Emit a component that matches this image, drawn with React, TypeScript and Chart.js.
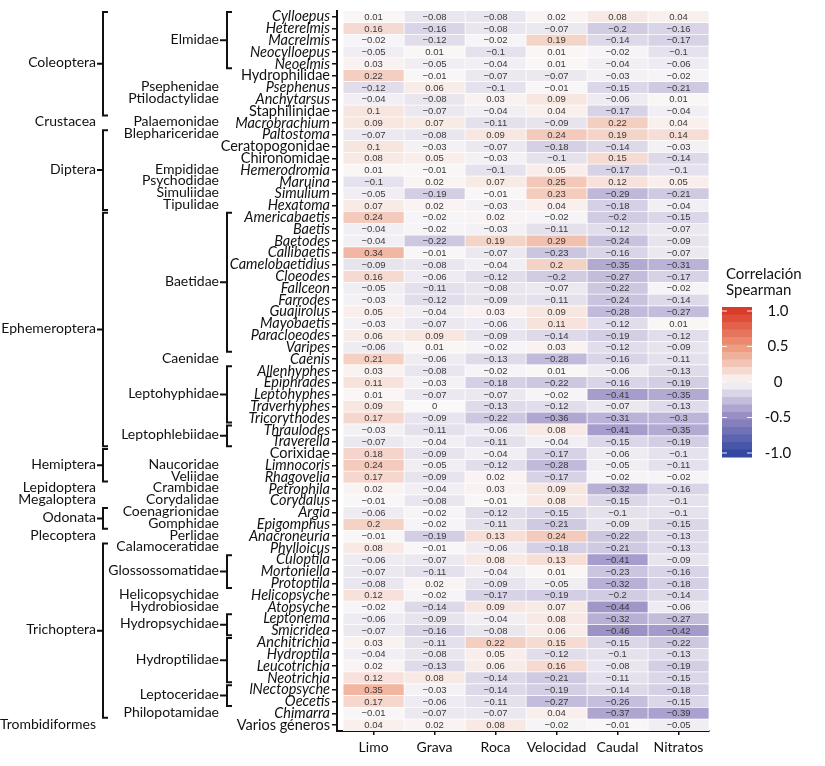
import React, { useEffect, useRef } from "react";
import { Chart, registerables } from "chart.js";
Chart.register(...registerables);

const taxa = [
  "Cylloepus", "Heterelmis", "Macrelmis", "Neocylloepus", "Neoelmis", "Hydrophilidae", "Psephenus", "Anchytarsus", "Staphilinidae", "Macrobrachium",
  "Paltostoma", "Ceratopogonidae", "Chironomidae", "Hemerodromia", "Maruina", "Simulium", "Hexatoma",
  "Americabaetis", "Baetis", "Baetodes", "Callibaetis", "Camelobaetidius", "Cloeodes", "Fallceon", "Farrodes", "Guajirolus", "Mayobaetis", "Paracloeodes", "Varipes", "Caenis",
  "Allenhyphes", "Epiphrades", "Leptohyphes", "Traverhyphes", "Tricorythodes", "Thraulodes", "Traverella",
  "Corixidae", "Limnocoris", "Rhagovelia", "Petrophila", "Corydalus", "Argia", "Epigomphus", "Anacroneuria", "Phylloicus",
  "Culoptila", "Mortoniella", "Protoptila", "Helicopsyche", "Atopsyche", "Leptonema", "Smicridea",
  "Anchitrichia", "Hydroptila", "Leucotrichia", "Neotrichia", "lNectopsyche", "Oecetis", "Chimarra", "Varios géneros",
];
const uprightLabels = ["Hydrophilidae", "Staphilinidae", "Ceratopogonidae", "Chironomidae", "Corixidae", "Varios géneros"];
const variables = ["Limo", "Grava", "Roca", "Velocidad", "Caudal", "Nitratos"];

const limo = [0.01, 0.16, -0.02, -0.05, 0.03, 0.22, -0.12, -0.04, 0.1, 0.09,
  -0.07, 0.1, 0.08, 0.01, -0.1, -0.05, 0.07,
  0.24, -0.04, -0.04, 0.34, -0.09, 0.16, -0.05, -0.03, 0.05, -0.03, 0.06, -0.06, 0.21,
  0.03, 0.11, 0.01, 0.09, 0.17, -0.03, -0.07,
  0.18, 0.24, 0.17, 0.02, -0.01, -0.06, 0.2, -0.01, 0.08, -0.06, -0.07, -0.08, 0.12, -0.02, -0.06, -0.07, 0.03, -0.04, 0.02, 0.12, 0.35, 0.17, -0.01, 0.04];
const grava = [-0.08, -0.16, -0.12, 0.01, -0.05, -0.01, 0.06, -0.08, -0.07, 0.07,
  -0.08, -0.03, 0.05, -0.01, 0.02, -0.19, 0.02,
  -0.02, -0.02, -0.22, -0.01, -0.08, -0.06, -0.11, -0.12, -0.04, -0.07, 0.09, 0.01, -0.06,
  -0.08, -0.03, -0.07, 0, -0.09, -0.11, -0.04,
  -0.09, -0.05, -0.09, -0.04, -0.08, -0.02, -0.02, -0.19, -0.01, -0.07, -0.11, 0.02, -0.02, -0.14, -0.09, -0.16, -0.11, -0.08, -0.13, 0.08, -0.03, -0.06, -0.07, 0.02];
const roca = [-0.08, -0.08, -0.02, -0.1, -0.04, -0.07, -0.1, 0.03, -0.04, -0.11,
  0.09, -0.07, -0.03, -0.1, 0.07, -0.01, -0.03,
  0.02, -0.03, 0.19, -0.07, -0.04, -0.12, -0.08, -0.09, 0.03, -0.06, -0.09, -0.02, -0.13,
  -0.02, -0.18, -0.07, -0.13, -0.22, -0.06, -0.11,
  -0.04, -0.12, 0.02, 0.03, -0.01, -0.12, -0.11, 0.13, -0.06, 0.08, -0.04, -0.09, -0.17, 0.09, -0.04, -0.08, 0.22, 0.05, 0.06, -0.14, -0.14, -0.11, -0.07, 0.08];
const velocidad = [0.02, -0.07, 0.19, 0.01, 0.01, -0.07, -0.01, 0.09, 0.04, -0.09,
  0.24, -0.18, -0.1, 0.05, 0.25, 0.23, 0.04,
  -0.02, -0.11, 0.29, -0.23, 0.2, -0.2, -0.07, -0.11, 0.09, 0.11, -0.14, 0.03, -0.28,
  0.01, -0.22, -0.02, -0.12, -0.36, 0.08, -0.04,
  -0.17, -0.28, -0.17, 0.09, 0.08, -0.15, -0.21, 0.24, -0.18, 0.13, 0.01, -0.05, -0.19, 0.07, 0.08, 0.06, 0.15, -0.12, 0.16, -0.21, -0.19, -0.27, 0.04, -0.02];
const caudal = [0.08, -0.2, -0.14, -0.02, -0.04, -0.03, -0.15, -0.06, -0.17, 0.22,
  0.19, -0.14, 0.15, -0.17, 0.12, -0.29, -0.18,
  -0.2, -0.12, -0.24, -0.16, -0.35, -0.27, -0.22, -0.24, -0.28, -0.12, -0.19, -0.12, -0.16,
  -0.06, -0.16, -0.41, -0.07, -0.31, -0.41, -0.15,
  -0.06, -0.05, -0.02, -0.32, -0.15, -0.1, -0.09, -0.22, -0.21, -0.41, -0.23, -0.32, -0.2, -0.44, -0.32, -0.46, -0.15, -0.1, -0.08, -0.11, -0.14, -0.26, -0.37, -0.01];
const nitratos = [0.04, -0.16, -0.17, -0.1, -0.06, -0.02, -0.21, 0.01, -0.04, 0.04,
  0.14, -0.03, -0.14, -0.1, 0.05, -0.21, -0.04,
  -0.15, -0.07, -0.09, -0.07, -0.31, -0.17, -0.02, -0.14, -0.27, 0.01, -0.12, -0.09, -0.11,
  -0.13, -0.19, -0.35, -0.13, -0.3, -0.35, -0.19,
  -0.1, -0.11, -0.02, -0.16, -0.1, -0.1, -0.15, -0.13, -0.13, -0.09, -0.16, -0.18, -0.14, -0.06, -0.27, -0.42, -0.22, -0.13, -0.19, -0.15, -0.18, -0.15, -0.39, -0.05];
const columns = [limo, grava, roca, velocidad, caudal, nitratos];

const familyGroups = [
  { name: "Elmidae", from: 0, to: 4 },
  { name: "Psephenidae", from: 6, to: 6 },
  { name: "Ptilodactylidae", from: 7, to: 7 },
  { name: "Palaemonidae", from: 9, to: 9 },
  { name: "Blephariceridae", from: 10, to: 10 },
  { name: "Empididae", from: 13, to: 13 },
  { name: "Psychodidae", from: 14, to: 14 },
  { name: "Simuliidae", from: 15, to: 15 },
  { name: "Tipulidae", from: 16, to: 16 },
  { name: "Baetidae", from: 17, to: 28 },
  { name: "Caenidae", from: 29, to: 29 },
  { name: "Leptohyphidae", from: 30, to: 34 },
  { name: "Leptophlebiidae", from: 35, to: 36 },
  { name: "Naucoridae", from: 38, to: 38 },
  { name: "Veliidae", from: 39, to: 39 },
  { name: "Crambidae", from: 40, to: 40 },
  { name: "Corydalidae", from: 41, to: 41 },
  { name: "Coenagrionidae", from: 42, to: 42 },
  { name: "Gomphidae", from: 43, to: 43 },
  { name: "Perlidae", from: 44, to: 44 },
  { name: "Calamoceratidae", from: 45, to: 45 },
  { name: "Glossossomatidae", from: 46, to: 48 },
  { name: "Helicopsychidae", from: 49, to: 49 },
  { name: "Hydrobiosidae", from: 50, to: 50 },
  { name: "Hydropsychidae", from: 51, to: 52 },
  { name: "Hydroptilidae", from: 53, to: 56 },
  { name: "Leptoceridae", from: 57, to: 58 },
  { name: "Philopotamidae", from: 59, to: 59 },
];
const orderGroups = [
  { name: "Coleoptera", from: 0, to: 8 },
  { name: "Crustacea", from: 9, to: 9 },
  { name: "Diptera", from: 10, to: 16 },
  { name: "Ephemeroptera", from: 17, to: 36 },
  { name: "Hemiptera", from: 37, to: 39 },
  { name: "Lepidoptera", from: 40, to: 40 },
  { name: "Megaloptera", from: 41, to: 41 },
  { name: "Odonata", from: 42, to: 43 },
  { name: "Plecoptera", from: 44, to: 44 },
  { name: "Trichoptera", from: 45, to: 59 },
  { name: "Trombidiformes", from: 60, to: 60 },
];
const legendTicks = [1, 0.5, 0, -0.5, -1];
const legendTickLabels = ["1.0", "0.5", "0", "-0.5", "-1.0"];

const colorStops: [number, number[]][] = [
  [-1, [52, 72, 162]],
  [-0.5, [148, 137, 194]],
  [0, [250, 248, 248]],
  [0.5, [237, 152, 122]],
  [1, [218, 58, 42]],
];
function colorFor(v: number): string {
  const x = Math.max(-1, Math.min(1, v));
  for (let i = 0; i < colorStops.length - 1; i++) {
    const [a, ca] = colorStops[i];
    const [b, cb] = colorStops[i + 1];
    if (x >= a && x <= b) {
      const t = (x - a) / (b - a);
      const c = ca.map((cv, k) => Math.round(cv + (cb[k] - cv) * t));
      return `rgb(${c[0]},${c[1]},${c[2]})`;
    }
  }
  return "#fff";
}
function fmt(v: number): string {
  if (v === 0) return "0";
  return String(v).replace("-", "\u2212");
}

const FONT = "Lato, 'Open Sans', sans-serif";

const hierarchyPlugin = {
  id: "hierarchy",
  afterDraw(chart: any) {
    const ctx = chart.ctx;
    const y = chart.scales.y;
    const rowY = (i: number) => y.getPixelForValue(i);
    ctx.save();
    ctx.fillStyle = "#111";
    ctx.strokeStyle = "#111";
    ctx.lineWidth = 2;
    ctx.textAlign = "right";
    ctx.textBaseline = "middle";
    ctx.font = `14px ${FONT}`;
    const drawGroup = (g: any, textRight: number, bx: number) => {
      const top = rowY(g.from) - 4.5;
      const bot = rowY(g.to) + 4.5;
      const mid = (rowY(g.from) + rowY(g.to)) / 2;
      ctx.fillText(g.name, textRight, mid - 1);
      if (g.to > g.from) {
        ctx.beginPath();
        ctx.moveTo(bx + 5, top);
        ctx.lineTo(bx, top);
        ctx.lineTo(bx, bot);
        ctx.lineTo(bx + 5, bot);
        ctx.moveTo(textRight + 1, mid);
        ctx.lineTo(bx, mid);
        ctx.stroke();
      }
    };
    familyGroups.forEach((g) => drawGroup(g, 219, 227));
    orderGroups.forEach((g) => drawGroup(g, 96, 103));

    // colour bar legend
    const lx = 722, lw = 30, lTop = 307, lBot = 457;
    const centerY = (lTop + lBot) / 2;
    const unit = 71;
    const n = 20;
    const bh = (lBot - lTop) / n;
    for (let k = 0; k < n; k++) {
      const v = 1 - (k * 2) / (n - 1);
      ctx.fillStyle = colorFor(v);
      ctx.fillRect(lx, lTop + k * bh, lw, bh + 0.5);
    }
    ctx.strokeStyle = "rgba(255,255,255,0.9)";
    ctx.lineWidth = 1;
    legendTicks.forEach((t) => {
      const ty = centerY - t * unit;
      ctx.beginPath();
      ctx.moveTo(lx, ty); ctx.lineTo(lx + 5, ty);
      ctx.moveTo(lx + lw - 5, ty); ctx.lineTo(lx + lw, ty);
      ctx.stroke();
    });
    ctx.fillStyle = "#111";
    ctx.textAlign = "center";
    ctx.font = `15px ${FONT}`;
    legendTicks.forEach((t, i) => {
      ctx.fillText(legendTickLabels[i], 778, centerY - t * unit);
    });
    ctx.textAlign = "left";
    ctx.font = `15px ${FONT}`;
    ctx.fillText("Correlación", 726, 274);
    ctx.fillText("Spearman", 726, 290);
    ctx.restore();
  },
};

const valuesPlugin = {
  id: "cellValues",
  afterDatasetsDraw(chart: any) {
    const ctx = chart.ctx;
    ctx.save();
    ctx.fillStyle = "#3a3a3a";
    ctx.font = "9.5px 'Liberation Sans', Arial, sans-serif";
    ctx.textAlign = "center";
    ctx.textBaseline = "middle";
    chart.data.datasets.forEach((ds: any, di: number) => {
      const meta = chart.getDatasetMeta(di);
      meta.data.forEach((el: any, i: number) => {
        const cx = (el.x + el.base) / 2;
        ctx.fillText(fmt(columns[di][i]), cx, el.y + 0.5);
      });
    });
    ctx.restore();
  },
};

export default function App() {
  const ref = useRef<HTMLCanvasElement>(null);
  useEffect(() => {
    document.body.style.margin = "0";
    const canvas = ref.current!;
    const chart = new Chart(canvas, {
      type: "bar",
      data: {
        labels: taxa,
        datasets: columns.map((col, ci) => ({
          label: variables[ci],
          data: col.map(() => 1),
          backgroundColor: col.map((v) => colorFor(v)),
          borderColor: "#ffffff",
          borderWidth: 0.7,
          borderSkipped: false,
          barPercentage: 1,
          categoryPercentage: 1,
        })),
      },
      options: {
        indexAxis: "y",
        animation: false,
        responsive: false,
        devicePixelRatio: 1,
        layout: { padding: { top: 6, right: 116, left: 0, bottom: 0 } },
        plugins: { legend: { display: false }, tooltip: { enabled: false } },
        scales: {
          x: {
            type: "linear",
            min: -0.1,
            max: 6,
            stacked: true,
            afterBuildTicks: (axis: any) => {
              axis.ticks = variables.map((_, i) => ({ value: i + 0.5 }));
            },
            afterFit: (s: any) => { s.height = 35; },
            ticks: {
              callback: (_v: any, i: number) => variables[i],
              font: { family: FONT, size: 14 },
              color: "#111",
              padding: 4,
              autoSkip: false,
              maxRotation: 0,
            },
            grid: { drawOnChartArea: false, drawTicks: true, tickLength: 4, color: "#111", lineWidth: 1.5 },
            border: { display: true, color: "#111", width: 2 },
          },
          y: {
            type: "category",
            stacked: true,
            afterFit: (s: any) => { s.width = 337; },
            ticks: {
              autoSkip: false,
              color: "#111",
              padding: 2,
              font: (c: any) => ({
                family: FONT,
                size: 14.5,
                style: uprightLabels.includes(taxa[c.index]) ? "normal" : "italic",
              }),
            },
            grid: { drawOnChartArea: false, offset: false, drawTicks: true, tickLength: 5, color: "#111", lineWidth: 1.5 },
            border: { display: true, color: "#111", width: 2 },
          },
        },
      } as any,
      plugins: [valuesPlugin, hierarchyPlugin],
    });
    return () => chart.destroy();
  }, []);
  return (
    <div style={{ width: 825, height: 766, background: "#fff" }}>
      <canvas ref={ref} width={825} height={766} style={{ display: "block" }} />
    </div>
  );
}
